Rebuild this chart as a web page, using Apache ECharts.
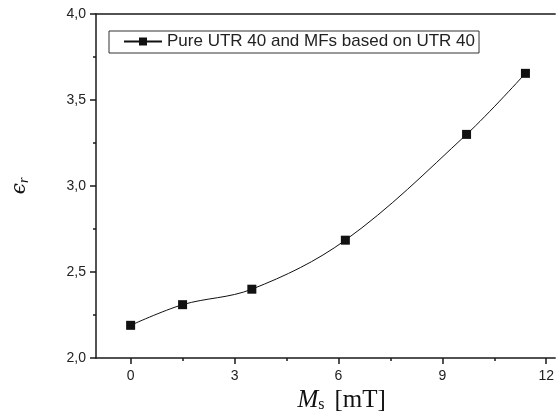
<!DOCTYPE html>
<html>
<head>
<meta charset="utf-8">
<script src="https://cdn.jsdelivr.net/npm/echarts@6/dist/echarts.min.js"></script>
<style>
html,body{margin:0;padding:0;background:#fff;}
#c{width:557px;height:419px;}
</style>
</head>
<body>
<div id="c"></div>
<script>
const seriesName = 'Pure UTR 40 and MFs based on UTR 40';
const msValues = [0, 1.5, 3.5, 6.2, 9.7, 11.4];
const epsValues = [2.19, 2.31, 2.40, 2.685, 3.30, 3.655];
const xMajorTicks = [0, 3, 6, 9, 12];
const xMinorTicks = [1.5, 4.5, 7.5, 10.5];

const chart = echarts.init(document.getElementById('c'));
const axisColor = '#1a1a1a';
const labelFont = {color: '#222', fontSize: 14, fontFamily: 'Liberation Sans, Arial, sans-serif'};
const data = msValues.map((v, i) => [v, epsValues[i]]);

chart.setOption({
  animation: false,
  backgroundColor: '#fff',
  grid: {left: 96, right: 0, top: 14, bottom: 61, containLabel: false},
  legend: {
    show: true,
    left: 109, top: 31,
    padding: [2, 4, 3, 14],
    borderColor: '#333', borderWidth: 1,
    itemWidth: 38, itemHeight: 10, itemGap: 5,
    textStyle: {color: '#222', fontSize: 17, fontFamily: 'Liberation Sans, Arial, sans-serif'},
    data: [seriesName]
  },
  graphic: [{
    type: 'text',
    x: 20, y: 186,
    rotation: Math.PI / 2,
    style: {
      text: '{e|ϵ}{r|r}',
      align: 'center', verticalAlign: 'middle',
      rich: {
        e: {fontFamily: 'DejaVu Serif, Liberation Serif, serif', fontStyle: 'italic', fontSize: 20, fill: '#111'},
        r: {fontFamily: 'Liberation Serif, DejaVu Serif, serif', fontStyle: 'italic', fontSize: 14, fill: '#111', padding: [8, 0, 0, 0]}
      }
    }
  }],
  xAxis: [
    {
      type: 'value', min: -1, max: 12.26, position: 'bottom',
      axisLine: {show: true, onZero: false, lineStyle: {color: axisColor, width: 1.5}},
      axisTick: {show: true, inside: false, length: 6, customValues: xMajorTicks, lineStyle: {color: axisColor, width: 1.5}},
      axisLabel: {show: true, customValues: xMajorTicks, margin: 11, ...labelFont},
      splitLine: {show: false},
      name: '{m|M}{s|s}{sp| }{u|[mT]}',
      nameLocation: 'middle', nameGap: 29,
      nameTextStyle: {
        padding: [0, 0, 0, 32],
        rich: {
          m: {fontFamily: 'Liberation Serif, DejaVu Serif, serif', fontStyle: 'italic', fontSize: 25, color: '#111'},
          s: {fontFamily: 'Liberation Serif, DejaVu Serif, serif', fontSize: 16, color: '#111', padding: [9, 0, 0, 0]},
          sp: {fontSize: 18, width: 10},
          u: {fontFamily: 'Liberation Serif, DejaVu Serif, serif', fontSize: 25, color: '#111'}
        }
      }
    },
    {
      type: 'value', min: -1, max: 12.26, position: 'bottom',
      axisLine: {show: false, onZero: false},
      axisTick: {show: true, inside: false, length: 3, customValues: xMinorTicks, lineStyle: {color: axisColor, width: 1.5}},
      axisLabel: {show: false},
      splitLine: {show: false}
    },
    {
      type: 'value', min: -1, max: 12.26, position: 'top',
      axisLine: {show: true, onZero: false, lineStyle: {color: axisColor, width: 1.5}},
      axisTick: {show: false}, axisLabel: {show: false}, splitLine: {show: false}
    }
  ],
  yAxis: {
    type: 'value', min: 2, max: 4, interval: 0.5, position: 'left',
    axisLine: {show: true, onZero: false, lineStyle: {color: axisColor, width: 1.5}},
    axisTick: {show: true, inside: false, length: 6, lineStyle: {color: axisColor, width: 1.5}},
    minorTick: {show: true, splitNumber: 2, length: 3, lineStyle: {color: axisColor, width: 1.5}},
    axisLabel: {show: true, margin: 10, formatter: v => v.toFixed(1).replace('.', ','), ...labelFont},
    splitLine: {show: false}
  },
  series: [{
    name: seriesName,
    type: 'line',
    xAxisIndex: 0,
    data: data,
    smooth: 0.35,
    symbol: 'rect', symbolSize: 9,
    itemStyle: {color: '#111'},
    lineStyle: {color: '#111', width: 1}
  }]
});
</script>
</body>
</html>
